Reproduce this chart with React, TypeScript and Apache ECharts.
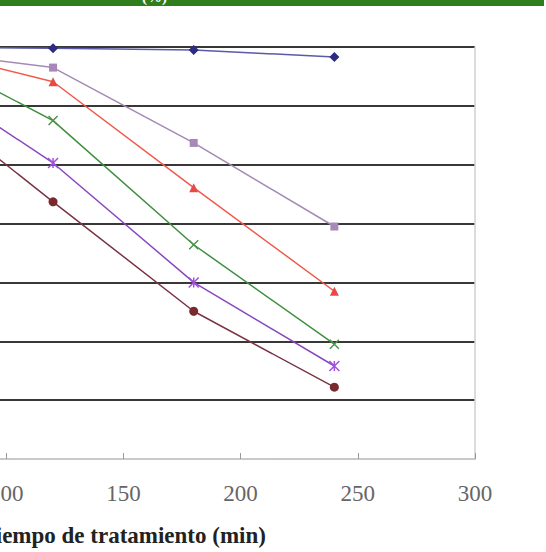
import React, { useEffect, useRef } from "react";
import * as echarts from "echarts";

const xValues = [60, 120, 180, 240];
const seriesA = [100, 99.8, 99.5, 98.3];
const seriesB = [99.5, 96.5, 83.7, 69.5];
const seriesC = [100, 94.1, 76.1, 58.5];
const seriesD = [100, 87.5, 66.4, 49.5];
const seriesE = [96.2, 80.3, 60.0, 45.8];
const seriesF = [92.6, 73.7, 55.1, 42.2];

const X_PATH = "path://M0,0L10,10M10,0L0,10";
const STAR_PATH = "path://M0,0L10,10M10,0L0,10M5,0L5,10";

const OFFSET = 237;

export default function App() {
  const ref = useRef<HTMLDivElement>(null);
  useEffect(() => {
    if (!ref.current) return;
    const chart = echarts.init(ref.current, null, { renderer: "svg" });
    const pairs = (ys: number[]) => xValues.map((x, i) => [x, ys[i]]);
    const mk = (
      data: number[],
      lineColor: string,
      symbol: string,
      size: number,
      fill: string,
      stroke?: string
    ) => ({
      type: "line",
      data: pairs(data),
      symbol,
      symbolSize: size,
      lineStyle: { color: lineColor, width: 1.5 },
      itemStyle: stroke
        ? { color: "rgba(0,0,0,0)", borderColor: stroke, borderWidth: 1.5 }
        : { color: fill, borderWidth: 0 },
      z: 5,
    });
    chart.setOption({
      animation: false,
      grid: { left: 0, right: 71, top: 47, bottom: 92 },
      xAxis: {
        type: "value",
        min: 0,
        max: 300,
        interval: 50,
        name: "Tiempo de tratamiento (min)",
        nameLocation: "middle",
        nameGap: 65,
        nameTextStyle: {
          fontFamily: "Liberation Serif",
          fontWeight: "bold",
          fontSize: 23,
          color: "#222",
        },
        axisLine: { lineStyle: { color: "#b8b8b8", width: 1.5 } },
        axisTick: { show: true, inside: true, length: 6, lineStyle: { color: "#999" } },
        axisLabel: {
          fontFamily: "Liberation Serif",
          fontSize: 23,
          color: "#666",
          margin: 23,
        },
        splitLine: { show: false },
      },
      yAxis: [
        {
          type: "value",
          min: 30,
          max: 100,
          interval: 10,
          axisLine: { show: false },
          axisTick: { show: false },
          axisLabel: { show: false },
          splitLine: {
            show: true,
            lineStyle: {
              color: ["rgba(0,0,0,0)", "#383838", "#383838", "#383838", "#383838", "#383838", "#383838", "#383838"],
              width: 2,
            },
          },
        },
        {
          type: "value",
          position: "right",
          min: 30,
          max: 100,
          interval: 10,
          axisLine: { show: true, lineStyle: { color: "#d0d0d0", width: 1.5 } },
          axisTick: { show: false },
          axisLabel: { show: false },
          splitLine: { show: false },
        },
      ],
      graphic: [
        { type: "rect", shape: { x: OFFSET, y: 0, width: 544, height: 6 }, style: { fill: "#2f7d1c" } },
        {
          type: "text",
          x: OFFSET + 142,
          y: -11,
          style: { text: "(%)", fill: "#ffffff", font: "bold 15px 'Liberation Serif'" },
        },
      ],
      series: [
        mk(seriesA, "#5a5aa8", "diamond", 10, "#2c2c80"),
        mk(seriesB, "#a48ab4", "rect", 8, "#a888b8"),
        mk(seriesC, "#f05a4a", "triangle", 9, "#e84848"),
        mk(seriesD, "#3f8f3f", X_PATH, 9, "", "#4a944a"),
        mk(seriesE, "#8a48c0", STAR_PATH, 10, "", "#a050e0"),
        mk(seriesF, "#7a3444", "circle", 9, "#7a2a2e"),
      ],
    });
    return () => chart.dispose();
  }, []);
  return (
    <div
      ref={ref}
      style={{ position: "fixed", left: -OFFSET, top: 0, width: 546 + OFFSET, height: 552, background: "#fff" }}
    />
  );
}
